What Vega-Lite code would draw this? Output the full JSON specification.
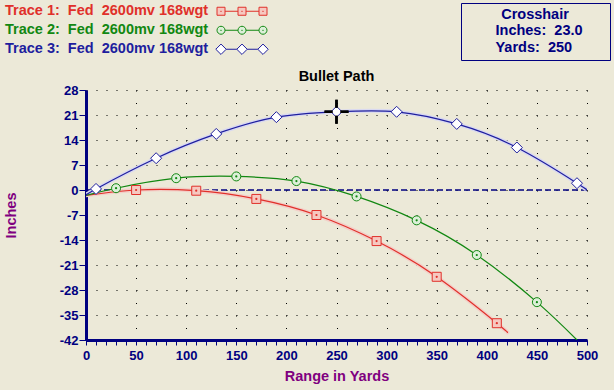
{
  "$schema": "https://vega.github.io/schema/vega-lite/v6.json",
  "width": 501,
  "height": 250,
  "autosize": {"type": "none"},
  "padding": {"left": 86, "top": 90, "right": 27, "bottom": 50},
  "background": "#ECE9D8",
  "title": {"text": "Bullet Path", "fontSize": 14.5, "fontWeight": "bold", "color": "#000000", "anchor": "middle", "frame": "group", "baseline": "alphabetic", "offset": 8, "dy": 101},
  "datasets": {
    "traces": [
      {"trace": "Trace 1", "yards": 0, "inches": -1.5, "marker": false},
      {"trace": "Trace 1", "yards": 50, "inches": 0.0, "marker": true},
      {"trace": "Trace 1", "yards": 110, "inches": -0.2, "marker": true},
      {"trace": "Trace 1", "yards": 170, "inches": -2.5, "marker": true},
      {"trace": "Trace 1", "yards": 230, "inches": -7.0, "marker": true},
      {"trace": "Trace 1", "yards": 290, "inches": -14.3, "marker": true},
      {"trace": "Trace 1", "yards": 350, "inches": -24.3, "marker": true},
      {"trace": "Trace 1", "yards": 410, "inches": -37.3, "marker": true},
      {"trace": "Trace 1", "yards": 420, "inches": -39.8, "marker": false},
      {"trace": "Trace 2", "yards": 0, "inches": -1.5, "marker": false},
      {"trace": "Trace 2", "yards": 30, "inches": 0.5, "marker": true},
      {"trace": "Trace 2", "yards": 90, "inches": 3.3, "marker": true},
      {"trace": "Trace 2", "yards": 150, "inches": 3.8, "marker": true},
      {"trace": "Trace 2", "yards": 210, "inches": 2.5, "marker": true},
      {"trace": "Trace 2", "yards": 270, "inches": -1.8, "marker": true},
      {"trace": "Trace 2", "yards": 330, "inches": -8.5, "marker": true},
      {"trace": "Trace 2", "yards": 390, "inches": -18.2, "marker": true},
      {"trace": "Trace 2", "yards": 450, "inches": -31.4, "marker": true},
      {"trace": "Trace 2", "yards": 490, "inches": -42.0, "marker": false},
      {"trace": "Trace 3", "yards": 0, "inches": -1.5, "marker": false},
      {"trace": "Trace 3", "yards": 10, "inches": 0.3, "marker": true},
      {"trace": "Trace 3", "yards": 70, "inches": 8.9, "marker": true},
      {"trace": "Trace 3", "yards": 130, "inches": 15.7, "marker": true},
      {"trace": "Trace 3", "yards": 190, "inches": 20.4, "marker": true},
      {"trace": "Trace 3", "yards": 250, "inches": 21.9, "marker": true},
      {"trace": "Trace 3", "yards": 310, "inches": 21.9, "marker": true},
      {"trace": "Trace 3", "yards": 370, "inches": 18.5, "marker": true},
      {"trace": "Trace 3", "yards": 430, "inches": 11.9, "marker": true},
      {"trace": "Trace 3", "yards": 490, "inches": 1.9, "marker": true},
      {"trace": "Trace 3", "yards": 500, "inches": 0.0, "marker": false}
    ],
    "cross": [
      {"yards": 250, "inches": 21.9, "info": "Inches:\u00a0\u00a023.0"},
      {"yards": 250, "inches": 21.9, "info": "\u00a0Yards:\u00a0\u00a0250"}
    ],
    "zero": [
      {"yards": 0, "yards2": 500, "inches": 0}
    ]
  },
  "encoding": {
    "x": {
      "field": "yards", "type": "quantitative",
      "scale": {"domain": [0, 500], "nice": false, "zero": false},
      "axis": {
        "values": [0,10,20,30,40,50,60,70,80,90,100,110,120,130,140,150,160,170,180,190,200,210,220,230,240,250,260,270,280,290,300,310,320,330,340,350,360,370,380,390,400,410,420,430,440,450,460,470,480,490,500],
        "labelExpr": "datum.value % 50 === 0 ? ('' + datum.value) : ''",
        "labelOverlap": false, "labelFlush": false,
        "labelFontSize": 13, "labelFontWeight": "bold", "labelColor": "#000080", "labelPadding": 4,
        "tickSize": 5, "tickColor": "#000080", "tickWidth": 1,
        "domainColor": "#000080", "domainWidth": 3,
        "grid": true, "gridColor": "#000000", "gridWidth": 1, "gridDash": [1, 11.5],
        "gridOpacity": {"condition": {"test": "datum.value % 50 === 0 && datum.value > 0", "value": 1}, "value": 0},
        "title": "Range in Yards", "titleColor": "#800080", "titleFontSize": 14.5, "titleFontWeight": "bold", "titlePadding": 7
      }
    },
    "y": {
      "field": "inches", "type": "quantitative",
      "scale": {"domain": [-42, 28], "nice": false, "zero": false},
      "axis": {
        "values": [-42,-35,-28,-21,-14,-7,0,7,14,21,28],
        "labelExpr": "'' + datum.value",
        "labelFontSize": 13, "labelFontWeight": "bold", "labelColor": "#000080", "labelPadding": 1,
        "tickSize": 7, "tickColor": "#000080", "tickWidth": 1,
        "domainColor": "#000080", "domainWidth": 3,
        "grid": true, "gridColor": "#000000", "gridWidth": 1, "gridDash": [1, 9],
        "title": "Inches", "titleColor": "#800080", "titleFontSize": 14.5, "titleFontWeight": "bold",
        "titleX": -75, "titleBaseline": "middle"
      }
    }
  },
  "layer": [
    {
      "data": {"name": "zero"},
      "mark": {"type": "rule", "color": "#000080", "strokeDash": [6, 3], "strokeWidth": 1.5},
      "encoding": {"x2": {"field": "yards2"}}
    },
    {
      "data": {"name": "traces"},
      "transform": [{"filter": "datum.trace === 'Trace 1'"}],
      "mark": {"type": "line", "interpolate": "natural", "strokeWidth": 4, "clip": true, "color": "#f3cfc8"},
      "encoding": {}
    },
    {
      "data": {"name": "traces"},
      "transform": [{"filter": "datum.trace === 'Trace 3'"}],
      "mark": {"type": "line", "interpolate": "natural", "strokeWidth": 4, "clip": true, "color": "#d9d9f0"},
      "encoding": {}
    },
    {
      "data": {"name": "traces"},
      "mark": {"type": "line", "interpolate": "natural", "strokeWidth": 1.2, "clip": true},
      "encoding": {
        "stroke": {
          "field": "trace", "type": "nominal",
          "scale": {"domain": ["Trace 1", "Trace 2", "Trace 3"], "range": ["#e0302a", "#128812", "#1e1e9e"]},
          "legend": {
            "orient": "none", "legendX": -81, "legendY": -86, "title": null, "padding": 0,
            "labelFontSize": 14.5, "labelFontWeight": "bold", "labelLimit": 0, "rowPadding": 4, "symbolSize": 64, "symbolOpacity": 1,
            "labelExpr": "datum.label + ':\u00a0\u00a0Fed\u00a0\u00a02600mv 168wgt'",
            "encode": {
              "labels": {"update": {"fill": {"scale": "stroke", "field": "value"}, "x": {"value": 0}}},
              "symbols": {"update": {
                "x": {"value": 237},
                "size": {"value": 64},
                "strokeWidth": {"value": 1},
                "opacity": {"value": 1},
                "stroke": {"scale": "stroke", "field": "value"},
                "fill": {"scale": "fill", "field": "value"},
                "shape": {"scale": "shape", "field": "value"}
              }}
            }
          }
        }
      }
    },
    {
      "data": {"name": "traces"},
      "transform": [{"filter": "datum.trace === 'Trace 1'"}],
      "mark": {"type": "point", "opacity": 0},
      "encoding": {
        "fill": {"field": "trace", "type": "nominal", "scale": {"domain": ["Trace 1", "Trace 2", "Trace 3"], "range": ["#f6c8c0", "#dcefd8", "#ffffff"]}, "legend": null},
        "shape": {"field": "trace", "type": "nominal", "scale": {"domain": ["Trace 1", "Trace 2", "Trace 3"], "range": [
          "M-6.25,-1L-4.25,-1L-4.25,1L-6.25,1Z M-1,-1L1,-1L1,1L-1,1Z M4.25,-1L6.25,-1L6.25,1L4.25,1Z M-4.25,0L-1,0 M1,0L4.25,0 M-5.3,-0.05L-5.2,-0.05L-5.2,0.05L-5.3,0.05Z M-0.05,-0.05L0.05,-0.05L0.05,0.05L-0.05,0.05Z M5.2,-0.05L5.3,-0.05L5.3,0.05L5.2,0.05Z",
          "M-4.25,0A1,1,0,1,1,-6.25,0A1,1,0,1,1,-4.25,0Z M1,0A1,1,0,1,1,-1,0A1,1,0,1,1,1,0Z M6.25,0A1,1,0,1,1,4.25,0A1,1,0,1,1,6.25,0Z M-4.25,0L-1,0 M1,0L4.25,0 M-5.3,-0.05L-5.2,-0.05L-5.2,0.05L-5.3,0.05Z M-0.05,-0.05L0.05,-0.05L0.05,0.05L-0.05,0.05Z M5.2,-0.05L5.3,-0.05L5.3,0.05L5.2,0.05Z",
          "M-5.25,-1.3L-3.95,0L-5.25,1.3L-6.55,0Z M0,-1.3L1.3,0L0,1.3L-1.3,0Z M5.25,-1.3L6.55,0L5.25,1.3L3.95,0Z M-3.95,0L-1.3,0 M1.3,0L3.95,0"
        ]}, "legend": null}
      }
    },
    {
      "data": {"name": "traces"},
      "transform": [{"filter": "datum.marker && datum.trace === 'Trace 1'"}],
      "mark": {"type": "point", "shape": "square", "size": 81, "filled": false, "fill": "#f6c8c0", "strokeWidth": 1, "opacity": 1},
      "encoding": {"stroke": {"field": "trace", "type": "nominal"}}
    },
    {
      "data": {"name": "traces"},
      "transform": [{"filter": "datum.marker && datum.trace === 'Trace 2'"}],
      "mark": {"type": "point", "shape": "circle", "size": 81, "filled": false, "fill": "#dcefd8", "strokeWidth": 1, "opacity": 1},
      "encoding": {"stroke": {"field": "trace", "type": "nominal"}}
    },
    {
      "data": {"name": "traces"},
      "transform": [{"filter": "datum.marker && datum.trace === 'Trace 3'"}],
      "mark": {"type": "point", "shape": "diamond", "size": 121, "filled": false, "fill": "#ffffff", "strokeWidth": 1, "opacity": 1},
      "encoding": {"stroke": {"field": "trace", "type": "nominal"}}
    },
    {
      "data": {"name": "traces"},
      "transform": [{"filter": "datum.marker && datum.trace === 'Trace 1'"}],
      "mark": {"type": "point", "filled": true, "size": 5, "opacity": 1, "color": "#e0302a"},
      "encoding": {}
    },
    {
      "data": {"name": "traces"},
      "transform": [{"filter": "datum.marker && datum.trace === 'Trace 2'"}],
      "mark": {"type": "point", "filled": true, "size": 5, "opacity": 1, "color": "#128812"},
      "encoding": {}
    },
    {
      "data": {"name": "cross"},
      "mark": {"type": "point", "shape": "M0,-12L0,-4M0,4L0,12M-12,0L-4,0M4,0L12,0", "size": 4, "filled": false, "color": "#000000", "strokeWidth": 2.5},
      "encoding": {
        "opacity": {
          "field": "info", "type": "ordinal",
          "scale": {"range": [1, 1]},
          "sort": ["Inches:\u00a0\u00a023.0", "\u00a0Yards:\u00a0\u00a0250"],
          "legend": {
            "orient": "none", "legendX": 375, "legendY": -87,
            "title": "\u2800\u00a0\u00a0\u00a0\u00a0\u00a0\u00a0Crosshair\u00a0\u00a0\u00a0\u00a0\u00a0\u00a0\u2800", "titleColor": "#000080", "titleFontSize": 14.5, "titleFontWeight": "bold", "titleAnchor": "middle", "titlePadding": 1, "titleLimit": 0,
            "labelColor": "#000080", "labelFontSize": 14.5, "labelFontWeight": "bold", "labelOffset": -7, "labelLimit": 0,
            "symbolSize": 49, "symbolOpacity": 0, "symbolStrokeWidth": 0, "symbolType": "square",
            "strokeColor": "#000080", "padding": 5, "rowPadding": 2
          }
        }
      }
    }
  ],
  "config": {"font": "Liberation Sans", "view": {"stroke": null}}
}
